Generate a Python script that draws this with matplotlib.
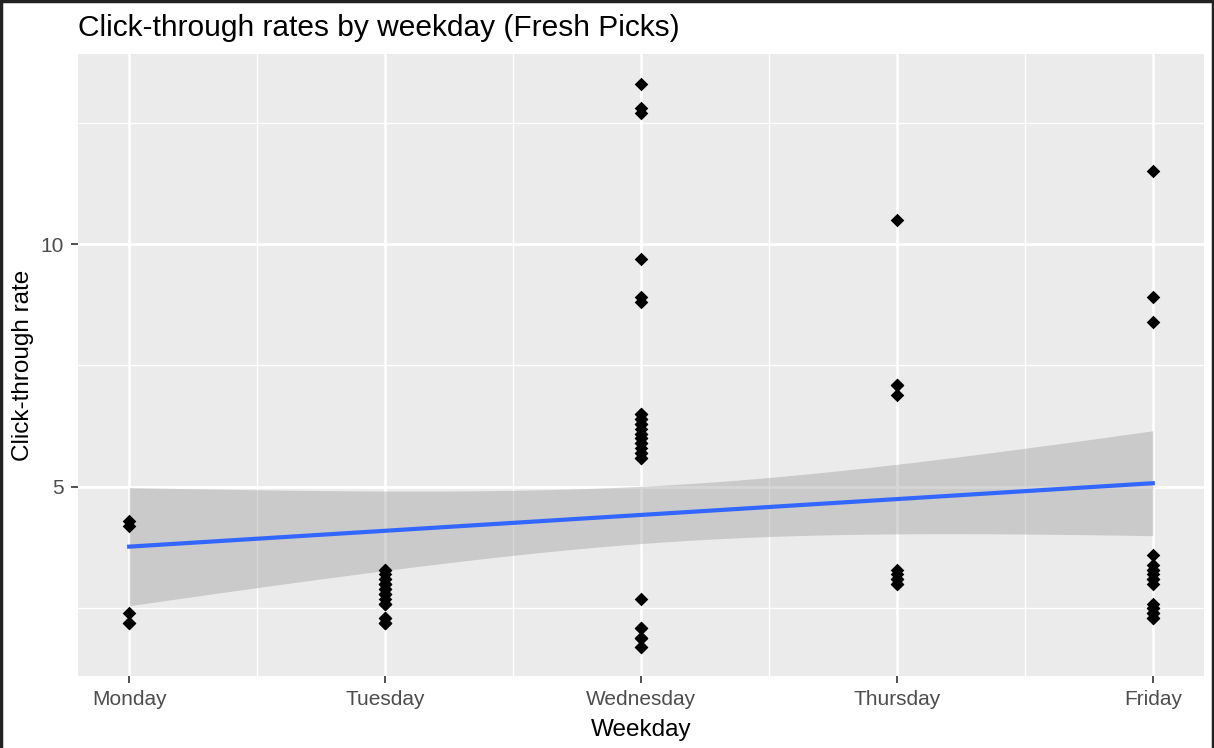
import numpy as np
import matplotlib.pyplot as plt
from matplotlib.lines import Line2D

plt.rcParams['font.family'] = ['Liberation Sans', 'DejaVu Sans']

days = ["Monday", "Tuesday", "Wednesday", "Thursday", "Friday"]
# many points overlap in the clusters, so values repeat
monday = [4.3, 4.2, 2.4, 2.2, 2.2]
tuesday = [3.3, 3.3, 3.2, 3.1, 3.1, 3.0, 3.0, 3.0, 2.9, 2.9, 2.8, 2.8, 2.8, 2.7,
           2.6, 2.6, 2.6, 2.3, 2.3, 2.2, 2.2, 2.2]
wednesday = [13.3, 12.8, 12.7, 9.7, 8.9, 8.8,
             6.5, 6.5, 6.4, 6.4, 6.3, 6.3, 6.2, 6.1, 6.1, 6.0, 6.0, 5.9, 5.9,
             5.8, 5.7, 5.7, 5.6, 5.6,
             2.7, 2.1, 2.1, 1.9, 1.9, 1.9, 1.7, 1.7]
thursday = [10.5, 7.1, 7.1, 6.9, 3.3, 3.2, 3.1, 3.1, 3.0, 3.0]
friday = [11.5, 8.9, 8.4, 3.6, 3.4, 3.3, 3.3, 3.2, 3.1, 3.1, 3.0,
          2.6, 2.5, 2.5, 2.4, 2.4, 2.3, 2.3]

groups = [monday, tuesday, wednesday, thursday, friday]
x = np.concatenate([np.full(len(g), i + 1.0) for i, g in enumerate(groups)])
y = np.concatenate([np.array(g, dtype=float) for g in groups])

# linear fit + 95% confidence band (like geom_smooth(method="lm"))
n = len(x)
b, a = np.polyfit(x, y, 1)
res = y - (a + b * x)
s = np.sqrt(np.sum(res ** 2) / (n - 2))
xs = np.linspace(1, 5, 80)
se = s * np.sqrt(1 / n + (xs - x.mean()) ** 2 / np.sum((x - x.mean()) ** 2))
tval = 1.988  # t(0.975, df~85)
fit = a + b * xs

fig = plt.figure(figsize=(12.14, 7.48), dpi=100)
ax = fig.add_axes([78 / 1214, 72 / 748, 1126 / 1214, 622 / 748])
ax.set_facecolor("#EBEBEB")

for v in [1.5, 2.5, 3.5, 4.5]:
    ax.axvline(v, color="white", lw=1.0, zorder=0)
for v in [2.5, 7.5, 12.5]:
    ax.axhline(v, color="white", lw=1.0, zorder=0)
for v in [1, 2, 3, 4, 5]:
    ax.axvline(v, color="white", lw=2.0, zorder=0)
for v in [5, 10]:
    ax.axhline(v, color="white", lw=2.0, zorder=0)

ax.fill_between(xs, fit - tval * se, fit + tval * se, color="#999999", alpha=0.4, lw=0, zorder=1)
ax.plot(xs, fit, color="#3366FF", lw=3, zorder=2)
ax.scatter(x, y, marker="D", s=48, color="black", lw=0, zorder=3)

ax.set_xlim(0.8, 5.2)
ax.set_ylim(1.11, 13.91)
ax.set_xticks([1, 2, 3, 4, 5])
ax.set_xticklabels(days)
ax.set_yticks([5, 10])
ax.tick_params(colors="#333333", labelcolor="#4D4D4D", labelsize=15, length=5, width=1.2, pad=5)
for sp in ax.spines.values():
    sp.set_visible(False)

ax.set_xlabel("Weekday", fontsize=17.5, labelpad=7)
ax.set_ylabel("Click-through rate", fontsize=17.5, labelpad=5)
fig.text(78 / 1214, 1 - 28 / 748, "Click-through rates by weekday (Fresh Picks)",
         fontsize=21.5, va="center", ha="left")

# screenshot frame
for xy in [([0.001, 0.001], [0, 1]), ([0, 1], [0.998, 0.998]), ([0.999, 0.999], [0, 1])]:
    fig.add_artist(Line2D(xy[0], xy[1], color="#222222", lw=2.5, transform=fig.transFigure))

fig.savefig("out.png", dpi=100)
